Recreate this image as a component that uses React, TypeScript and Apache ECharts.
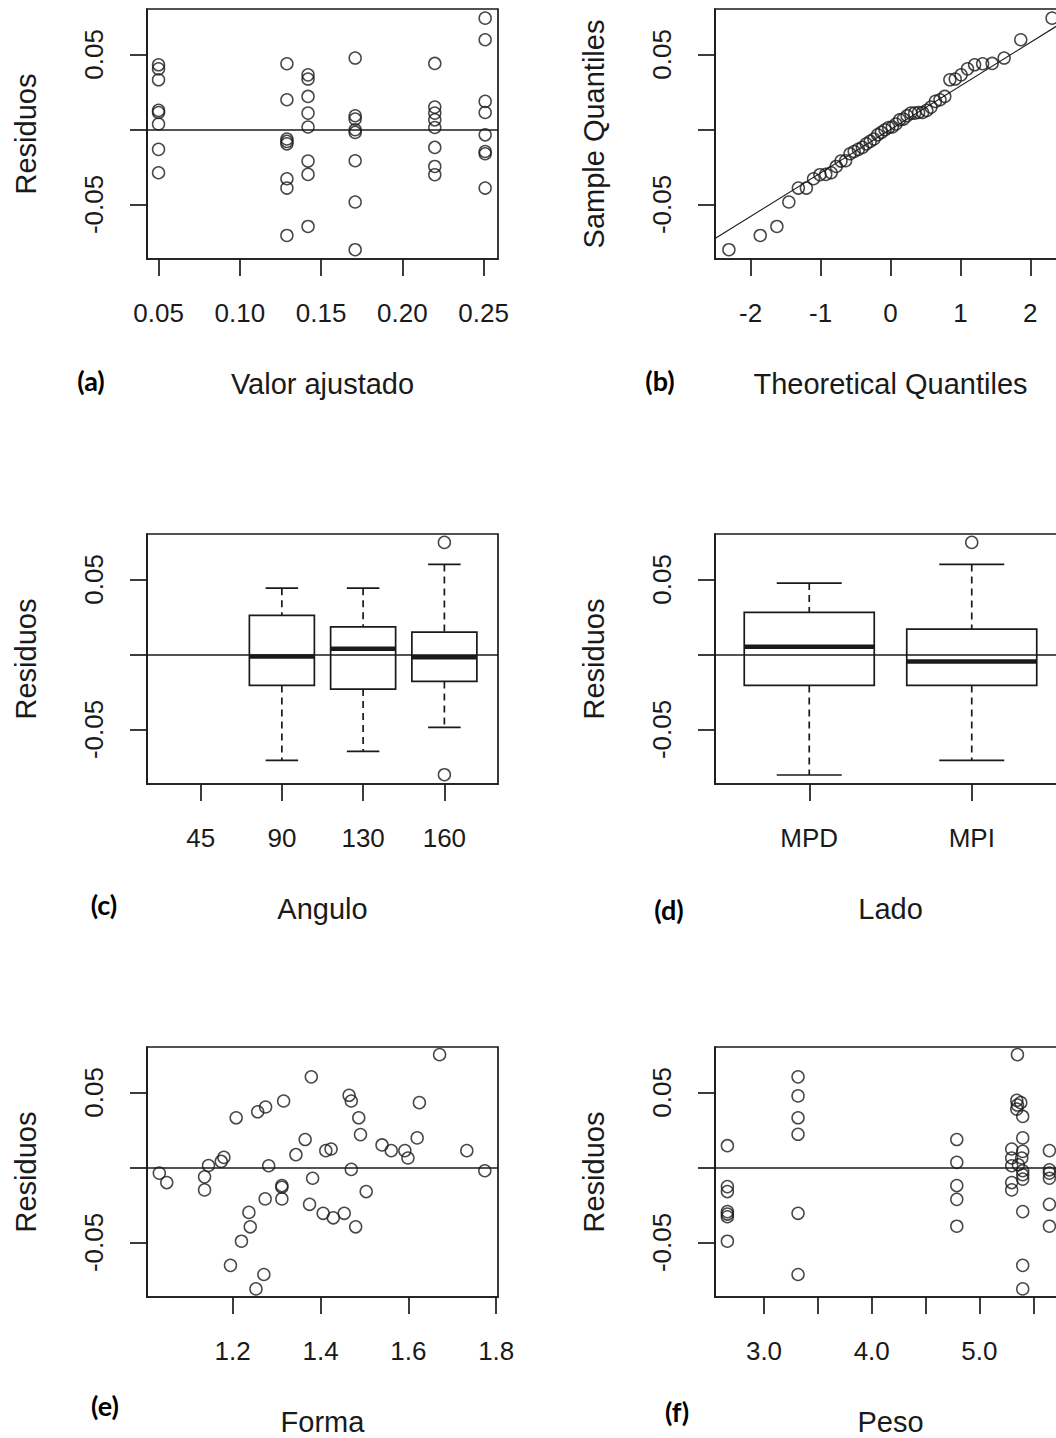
import React, { useEffect, useRef } from "react";
import * as echarts from "echarts";

// ---------- shared residual axis ----------
const Y_MIN = -0.0864;
const Y_MAX = 0.0803;
const residTicks = [-0.05, 0, 0.05];
const residLabels = [-0.05, 0.05];

// ---------- (a) residuals vs fitted ----------
const fittedValues = [
  0.05, 0.05, 0.05, 0.05, 0.05, 0.05, 0.05, 0.05,
  0.129, 0.129, 0.129, 0.129, 0.129, 0.129, 0.129, 0.129,
  0.142, 0.142, 0.142, 0.142, 0.142, 0.142, 0.142, 0.142,
  0.171, 0.171, 0.171, 0.171, 0.171, 0.171, 0.171, 0.171,
  0.22, 0.22, 0.22, 0.22, 0.22, 0.22, 0.22, 0.22,
  0.251, 0.251, 0.251, 0.251, 0.251, 0.251, 0.251, 0.251,
];
const residuals = [
  0.0431, 0.0404, 0.0331, 0.0127, 0.0113, 0.0036, -0.0133, -0.0289,
  0.0438, 0.0198, -0.0064, -0.008, -0.0096, -0.0329, -0.0391, -0.0707,
  0.0364, 0.0336, 0.022, 0.0109, 0.0016, -0.0211, -0.03, -0.0647,
  0.0476, 0.0091, 0.0069, -0.0002, -0.002, -0.0209, -0.0484, -0.0802,
  0.044, 0.0149, 0.0109, 0.0064, 0.0013, -0.012, -0.0247, -0.0302,
  0.0742, 0.0598, 0.0187, 0.0113, -0.0036, -0.0147, -0.0162, -0.0391,
];
const fittedTicks = [0.05, 0.1, 0.15, 0.2, 0.25];

// ---------- (b) normal Q-Q ----------
const theoreticalQuantiles = [
  -2.311, -1.863, -1.625, -1.454, -1.318, -1.203, -1.101, -1.01, -0.926, -0.849,
  -0.776, -0.708, -0.642, -0.579, -0.519, -0.46, -0.402, -0.346, -0.291, -0.237,
  -0.184, -0.131, -0.078, -0.026, 0.026, 0.078, 0.131, 0.184, 0.237, 0.291,
  0.346, 0.402, 0.46, 0.519, 0.579, 0.642, 0.708, 0.776, 0.849, 0.926,
  1.01, 1.101, 1.203, 1.318, 1.454, 1.625, 1.863, 2.311,
];
const qqLineIntercept = 0.0;
const qqLineSlope = 0.029;
const qqTicks = [-2, -1, 0, 1, 2];

// ---------- (c) Angulo boxplots ----------
const anguloCategories = ["45", "90", "130", "160"];
const anguloBoxLevels = ["90", "130", "160"];
// [lower whisker, Q1, median, Q3, upper whisker]
const anguloBoxStats = [
  [-0.0707, -0.0207, -0.0013, 0.026, 0.0442],
  [-0.0647, -0.0231, 0.0038, 0.0184, 0.0442],
  [-0.0487, -0.018, -0.0018, 0.0149, 0.06],
];
const anguloOutlierLevels = ["160", "160"];
const anguloOutlierValues = [0.0747, -0.0802];

// ---------- (d) Lado boxplots ----------
const ladoCategories = ["MPD", "MPI"];
const ladoBoxStats = [
  [-0.0804, -0.0207, 0.0051, 0.028, 0.0476],
  [-0.0707, -0.0207, -0.0047, 0.0169, 0.06],
];
const ladoOutlierLevels = ["MPI"];
const ladoOutlierValues = [0.0747];

// ---------- (e) Forma ----------
const formaValues = [
  1.033, 1.05, 1.136, 1.136, 1.145, 1.174, 1.18, 1.208, 1.195, 1.22,
  1.24, 1.237, 1.257, 1.275, 1.253, 1.271, 1.274, 1.282, 1.312, 1.312,
  1.312, 1.316, 1.344, 1.365, 1.379, 1.375, 1.382, 1.406, 1.412, 1.424,
  1.429, 1.454, 1.465, 1.47, 1.47, 1.48, 1.487, 1.491, 1.504, 1.54,
  1.561, 1.592, 1.599, 1.62, 1.625, 1.671, 1.733, 1.774,
];
const formaResiduals = [
  -0.0038, -0.0101, -0.0063, -0.015, 0.0013, 0.004, 0.0067, 0.0331, -0.0653, -0.0492,
  -0.0396, -0.03, 0.0371, 0.0403, -0.081, -0.0714, -0.021, 0.0011, -0.0121, -0.0132,
  -0.021, 0.0443, 0.0085, 0.0186, 0.0604, -0.0246, -0.0072, -0.0306, 0.0112, 0.0123,
  -0.0336, -0.0306, 0.0481, 0.0443, -0.0013, -0.0396, 0.0331, 0.0219, -0.0161, 0.015,
  0.0112, 0.0112, 0.0063, 0.0197, 0.0432, 0.0752, 0.0112, -0.0022,
];
const formaTicks = [1.2, 1.4, 1.6, 1.8];

// ---------- (f) Peso ----------
const pesoValues = [
  2.66, 2.66, 2.66, 2.66, 2.66, 2.66, 2.66,
  3.316, 3.316, 3.316, 3.316, 3.316, 3.316,
  4.79, 4.79, 4.79, 4.79, 4.79,
  5.353, 5.347, 5.384, 5.353, 5.347, 5.402, 5.402, 5.3, 5.402, 5.3, 5.393,
  5.3, 5.362, 5.402, 5.402, 5.402, 5.3, 5.3, 5.402, 5.402, 5.402,
  5.65, 5.65, 5.65, 5.65, 5.65, 5.65,
];
const pesoResiduals = [
  0.0145, -0.0128, -0.0161, -0.0295, -0.0311, -0.0329, -0.0492,
  0.0604, 0.0477, 0.0331, 0.0221, -0.0306, -0.0714,
  0.0186, 0.0034, -0.0121, -0.0213, -0.0392,
  0.0752, 0.0447, 0.0432, 0.0416, 0.0389, 0.034, 0.0197, 0.0123, 0.0107, 0.0063, 0.0063,
  0.0011, 0.0018, -0.0022, -0.0049, -0.0078, -0.0101, -0.015, -0.0295, -0.0653, -0.081,
  0.0112, -0.0016, -0.0038, -0.0072, -0.0246, -0.0392,
];
const pesoTicks = [3, 3.5, 4, 4.5, 5, 5.5];
const pesoLabels = [3, 4, 5];

// ---------- style ----------
const FONT = "'Liberation Sans', Arial, sans-serif";
const INK = "#1a1a1a";
const LINE_W = 1.7;
const BOX_WIDTH = 0.8;
const CAP_WIDTH = 0.4;

const grids = [
  { left: 147, top: 9, width: 351, height: 250 },
  { left: 715, top: 9, width: 351, height: 250 },
  { left: 147, top: 534, width: 351, height: 250 },
  { left: 715, top: 534, width: 351, height: 250 },
  { left: 147, top: 1047, width: 351, height: 250 },
  { left: 715, top: 1047, width: 351, height: 250 },
];

const zip = (xs: number[], ys: number[]) => xs.map((x, i) => [x, ys[i]]);

const pointStyle = {
  symbol: "circle",
  symbolSize: 12,
  itemStyle: { color: "transparent", borderColor: INK, borderWidth: 1.5 },
};

const zeroLine = {
  silent: true,
  symbol: ["none", "none"],
  label: { show: false },
  lineStyle: { color: INK, width: 1.5, type: "solid" },
  data: [{ yAxis: 0 }],
};

function xAxis(
  gridIndex: number,
  name: string,
  min: number,
  max: number,
  ticks: number[],
  labels: number[],
  fmt: (v: number) => string
) {
  return {
    type: "value",
    gridIndex,
    min,
    max,
    name,
    nameLocation: "middle",
    nameGap: 110,
    nameTextStyle: { fontSize: 29, fontFamily: FONT, color: INK },
    axisLine: { show: true, onZero: false, lineStyle: { color: INK, width: LINE_W } },
    axisTick: { show: true, length: 17, customValues: ticks, lineStyle: { color: INK, width: LINE_W } },
    axisLabel: {
      show: true,
      margin: 41,
      fontSize: 26,
      fontFamily: FONT,
      color: INK,
      customValues: labels,
      formatter: fmt,
    },
    splitLine: { show: false },
  };
}

function yAxis(gridIndex: number, name: string) {
  return {
    type: "value",
    gridIndex,
    min: Y_MIN,
    max: Y_MAX,
    name,
    nameLocation: "middle",
    nameRotate: 90,
    nameGap: 107,
    nameTextStyle: { fontSize: 29, fontFamily: FONT, color: INK },
    axisLine: { show: true, onZero: false, lineStyle: { color: INK, width: LINE_W } },
    axisTick: { show: true, length: 17, customValues: residTicks, lineStyle: { color: INK, width: LINE_W } },
    axisLabel: {
      show: true,
      rotate: 90,
      margin: 40,
      fontSize: 26,
      fontFamily: FONT,
      color: INK,
      customValues: residLabels,
      formatter: (v: number) => v.toFixed(2),
    },
    splitLine: { show: false },
  };
}

const renderBox = (_params: any, api: any) => {
  const x = api.value(0);
  const lo = api.value(1);
  const q1 = api.value(2);
  const md = api.value(3);
  const q3 = api.value(4);
  const hi = api.value(5);
  const bw = api.size([BOX_WIDTH, 0])[0];
  const cw = api.size([CAP_WIDTH, 0])[0];
  const cx = api.coord([x, md])[0];
  const yLo = api.coord([x, lo])[1];
  const yQ1 = api.coord([x, q1])[1];
  const yMd = api.coord([x, md])[1];
  const yQ3 = api.coord([x, q3])[1];
  const yHi = api.coord([x, hi])[1];
  const solid = { stroke: INK, lineWidth: LINE_W, fill: "none" };
  const dashed = { stroke: INK, lineWidth: LINE_W, lineDash: [7, 5] };
  return {
    type: "group",
    children: [
      { type: "line", shape: { x1: cx, y1: yHi, x2: cx, y2: yQ3 }, style: dashed },
      { type: "line", shape: { x1: cx, y1: yQ1, x2: cx, y2: yLo }, style: dashed },
      { type: "line", shape: { x1: cx - cw / 2, y1: yHi, x2: cx + cw / 2, y2: yHi }, style: solid },
      { type: "line", shape: { x1: cx - cw / 2, y1: yLo, x2: cx + cw / 2, y2: yLo }, style: solid },
      { type: "rect", shape: { x: cx - bw / 2, y: yQ3, width: bw, height: yQ1 - yQ3 }, style: solid },
      { type: "line", shape: { x1: cx - bw / 2, y1: yMd, x2: cx + bw / 2, y2: yMd }, style: { stroke: INK, lineWidth: 4.5 } },
    ],
  };
};

function buildOption() {
  const sortedResiduals = [...residuals].sort((a, b) => a - b);
  const qqX0 = -2.51;
  const qqX1 = 2.51;

  const anguloBoxData = anguloBoxLevels.map((lvl, i) => [anguloCategories.indexOf(lvl) + 1, ...anguloBoxStats[i]]);
  const anguloOutData = anguloOutlierLevels.map((lvl, i) => [anguloCategories.indexOf(lvl) + 1, anguloOutlierValues[i]]);
  const ladoBoxData = ladoCategories.map((_lvl, i) => [i + 1, ...ladoBoxStats[i]]);
  const ladoOutData = ladoOutlierLevels.map((lvl, i) => [ladoCategories.indexOf(lvl) + 1, ladoOutlierValues[i]]);

  const panelLabel = (text: string, x: number, y: number) => ({
    type: "text",
    x,
    y,
    style: {
      text,
      fill: "#000",
      fontSize: 27,
      fontWeight: "bold",
      fontFamily: "Lato, 'Open Sans', sans-serif",
      align: "center",
      verticalAlign: "middle",
    },
  });

  return {
    animation: false,
    backgroundColor: "#ffffff",
    textStyle: { fontFamily: FONT },
    grid: grids.map((g) => ({
      ...g,
      show: true,
      borderColor: INK,
      borderWidth: LINE_W,
      backgroundColor: "transparent",
      containLabel: false,
      outerBoundsMode: "none",
    })),
    xAxis: [
      xAxis(0, "Valor ajustado", 0.0429, 0.2589, fittedTicks, fittedTicks, (v) => v.toFixed(2)),
      xAxis(1, "Theoretical Quantiles", -2.51, 2.51, qqTicks, qqTicks, (v) => String(Math.round(v))),
      xAxis(2, "Angulo", 0.34, 4.66, [1, 2, 3, 4], [1, 2, 3, 4], (v) => anguloCategories[Math.round(v) - 1]),
      xAxis(3, "Lado", 0.42, 2.58, [1, 2], [1, 2], (v) => ladoCategories[Math.round(v) - 1]),
      xAxis(4, "Forma", 1.005, 1.804, formaTicks, formaTicks, (v) => v.toFixed(1)),
      xAxis(5, "Peso", 2.545, 5.804, pesoTicks, pesoLabels, (v) => v.toFixed(1)),
    ],
    yAxis: [
      yAxis(0, "Residuos"),
      yAxis(1, "Sample Quantiles"),
      yAxis(2, "Residuos"),
      yAxis(3, "Residuos"),
      yAxis(4, "Residuos"),
      yAxis(5, "Residuos"),
    ],
    series: [
      {
        type: "scatter",
        xAxisIndex: 0,
        yAxisIndex: 0,
        ...pointStyle,
        data: zip(fittedValues, residuals),
        markLine: zeroLine,
      },
      {
        type: "scatter",
        xAxisIndex: 1,
        yAxisIndex: 1,
        ...pointStyle,
        data: zip(theoreticalQuantiles, sortedResiduals),
      },
      {
        type: "line",
        xAxisIndex: 1,
        yAxisIndex: 1,
        showSymbol: false,
        symbol: "none",
        lineStyle: { color: INK, width: 1.1 },
        data: [
          [qqX0, qqLineIntercept + qqLineSlope * qqX0],
          [qqX1, qqLineIntercept + qqLineSlope * qqX1],
        ],
      },
      {
        type: "custom",
        xAxisIndex: 2,
        yAxisIndex: 2,
        renderItem: renderBox,
        encode: { x: 0, y: [1, 2, 3, 4, 5] },
        data: anguloBoxData,
      },
      {
        type: "scatter",
        xAxisIndex: 2,
        yAxisIndex: 2,
        ...pointStyle,
        data: anguloOutData,
        markLine: zeroLine,
      },
      {
        type: "custom",
        xAxisIndex: 3,
        yAxisIndex: 3,
        renderItem: renderBox,
        encode: { x: 0, y: [1, 2, 3, 4, 5] },
        data: ladoBoxData,
      },
      {
        type: "scatter",
        xAxisIndex: 3,
        yAxisIndex: 3,
        ...pointStyle,
        data: ladoOutData,
        markLine: zeroLine,
      },
      {
        type: "scatter",
        xAxisIndex: 4,
        yAxisIndex: 4,
        ...pointStyle,
        data: zip(formaValues, formaResiduals),
        markLine: zeroLine,
      },
      {
        type: "scatter",
        xAxisIndex: 5,
        yAxisIndex: 5,
        ...pointStyle,
        data: zip(pesoValues, pesoResiduals),
        markLine: zeroLine,
      },
    ],
    graphic: [
      panelLabel("(a)", 91, 380),
      panelLabel("(b)", 660, 380),
      panelLabel("(c)", 104, 904),
      panelLabel("(d)", 669, 909),
      panelLabel("(e)", 105, 1405),
      panelLabel("(f)", 677, 1411),
    ],
  };
}

export default function App() {
  const ref = useRef<HTMLDivElement>(null);
  useEffect(() => {
    if (!ref.current) return;
    const chart = echarts.init(ref.current, undefined, { renderer: "svg" });
    chart.setOption(buildOption() as any);
    return () => chart.dispose();
  }, []);
  return (
    <div
      ref={ref}
      style={{ position: "absolute", left: 0, top: 0, width: 1056, height: 1438, background: "#fff" }}
    />
  );
}
